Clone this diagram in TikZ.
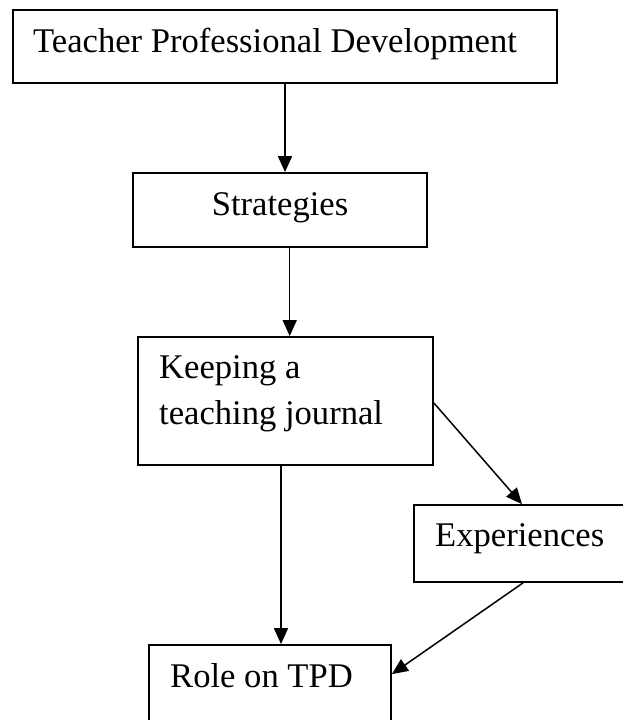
\documentclass[tikz,border=0pt]{standalone}
\usepackage{fontspec}
\setmainfont{Liberation Serif}
\usetikzlibrary{arrows.meta}
\begin{document}
\begin{tikzpicture}[x=1pt,y=-1pt,
  boxnode/.style={draw=black,line width=1.8pt,rectangle,inner sep=0pt,fill=none},
  lbl/.style={anchor=base west,inner sep=0pt,font=\fontsize{34.6}{46}\selectfont},
  conn/.style={line width=1.5pt,-{Triangle[length=16pt,width=14pt]}}]
\useasboundingbox (0,0) rectangle (623,720);
\clip (0,0) rectangle (623,720);
\fill[white] (0,0) rectangle (623,720);
\node[boxnode,minimum width=544pt,minimum height=73pt] (b1) at (285,46.5) {};
\node[boxnode,minimum width=294pt,minimum height=74pt] (b2) at (280,210) {};
\node[boxnode,minimum width=295pt,minimum height=128pt] (b3) at (285.5,401) {};
\node[boxnode,minimum width=236pt,minimum height=77pt] (b4) at (532,543.5) {};
\node[boxnode,minimum width=242pt,minimum height=115pt] (b5) at (270,702.5) {};
\node[lbl] (t1) at (33,52) {Teacher Professional Development};
\node[lbl,anchor=base] (t2) at (280,215) {Strategies};
\node[lbl] (t3a) at (159,378) {Keeping a};
\node[lbl] (t3b) at (159,424) {teaching journal};
\node[lbl] (t4) at (435,546) {Experiences};
\node[lbl] (t5) at (170,687) {Role on TPD};
\draw[conn] (b1.south) -- (b1.south |- b2.north);
\draw[conn] ([xshift=9.7pt]b2.south) -- ([xshift=9.7pt]b2.south |- b3.north);
\draw[conn] ([xshift=-4.5pt]b3.south) -- ([xshift=-4.5pt]b3.south |- b5.north);
\draw[conn] ([yshift=-2pt]b3.east) -- ([xshift=-10pt]b4.north);
\draw[conn] ([xshift=-9pt]b4.south) -- ([yshift=-30pt]b5.north east);
\end{tikzpicture}
\end{document}
